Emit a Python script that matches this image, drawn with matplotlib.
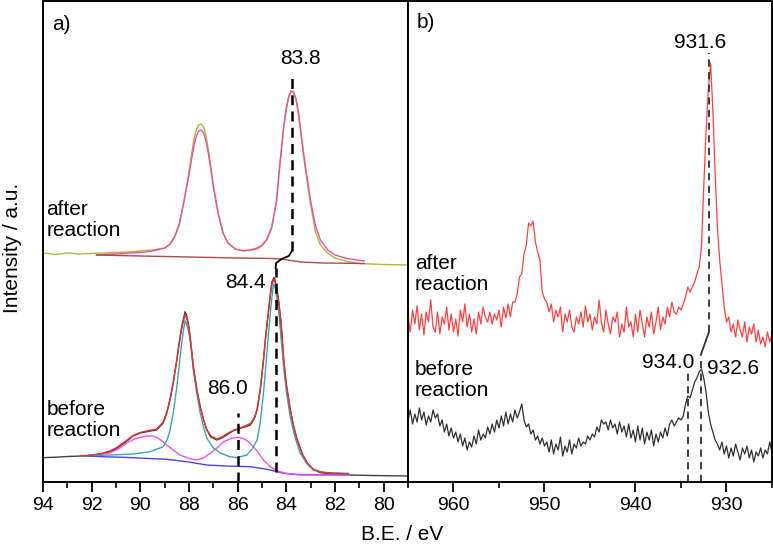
import numpy as np
import matplotlib.pyplot as plt

plt.rcParams['font.family'] = ['Liberation Sans', 'DejaVu Sans']

# ------------------------------
# a) Pd 3d, after reaction
# ------------------------------
pd_after_be = [94.0, 93.5, 93.0, 92.5, 92.0, 91.5, 91.0, 90.5, 90.0, 89.5, 89.0, 88.8, 88.6, 88.4,
               88.2, 88.0, 87.9, 87.8, 87.7, 87.6, 87.5, 87.4, 87.3, 87.2, 87.1, 87.0, 86.8, 86.6,
               86.4, 86.1, 85.8, 85.5, 85.2, 85.0, 84.8, 84.6, 84.4, 84.3, 84.2, 84.1, 84.0, 83.9,
               83.8, 83.7, 83.6, 83.5, 83.4, 83.3, 83.2, 83.0, 82.8, 82.6, 82.3, 82.0, 81.5, 81.0,
               80.5, 80.0, 79.0]
pd_after_raw = [229, 227.5, 229, 228, 228.5, 229, 229.5, 230, 231, 232, 234, 237, 244, 257,
                282, 310, 327, 342, 352, 357, 358, 355, 346, 332, 315, 297, 269, 249,
                239, 233, 231, 231.5, 233, 236, 242, 254, 282, 310, 334, 357, 374, 386,
                391, 390, 382, 367, 347, 327, 310, 277, 250, 237, 229, 224, 220.5, 218.5,
                218, 217.5, 217]

pd_after_fit_be = [91.8, 91.0, 90.0, 89.5, 89.0, 88.8, 88.6, 88.4, 88.2, 88.0, 87.9, 87.8, 87.7,
                   87.6, 87.5, 87.4, 87.3, 87.2, 87.1, 87.0, 86.8, 86.6, 86.4, 86.1, 85.8, 85.5,
                   85.2, 85.0, 84.8, 84.6, 84.4, 84.3, 84.2, 84.1, 84.0, 83.9, 83.8, 83.7, 83.6,
                   83.5, 83.4, 83.3, 83.2, 83.0, 82.8, 82.6, 82.3, 82.0, 81.5, 80.8]
pd_after_fit = [227, 228, 229.5, 231, 234, 237.5, 245, 258, 281, 307, 322, 336, 346,
                351, 352, 349, 341, 328, 312, 295, 268, 249, 239, 233, 231.5, 232,
                234, 237, 243, 255, 281, 308, 333, 356, 373, 385, 391, 390, 383,
                369, 350, 331, 313, 281, 256, 242, 232, 227, 223.5, 221]

pd_after_bg_be = [91.8, 90.0, 88.0, 86.0, 84.6, 84.2, 83.8, 83.4, 82.5, 80.8]
pd_after_bg = [227, 226, 225, 224, 223.5, 223, 221.5, 220, 219, 218.5]

# ------------------------------
# a) Pd 3d, before reaction
# ------------------------------
pd_before_be = [94.0, 93.5, 93.0, 92.4, 92.0, 91.6, 91.25, 91.0, 90.6, 90.3, 90.0, 89.74, 89.33,
                89.06, 88.9, 88.78, 88.64, 88.5, 88.4, 88.3, 88.22, 88.16, 88.1, 88.03, 87.95,
                87.82, 87.68, 87.54, 87.4, 87.27, 87.1, 86.86, 86.65, 86.45, 86.2, 85.9, 85.7,
                85.48, 85.3, 85.2, 85.07, 84.94, 84.84, 84.73, 84.66, 84.59, 84.5, 84.42, 84.32,
                84.22, 84.11, 84.0, 83.84, 83.7, 83.56, 83.35, 83.15, 82.9, 82.6, 82.0, 81.36,
                80.5, 79.0]
pd_before_raw = [24.3, 24.8, 25.5, 26, 26.5, 28, 30.3, 33, 40, 46, 49, 50.3, 52,
                 59, 70, 82, 100, 122, 140, 155.3, 164, 170.3, 167, 159, 145,
                 115.3, 93, 75.3, 62, 52, 45, 42, 44, 47, 51, 53.7, 55,
                 57, 64, 72, 92, 122, 148, 172, 188, 200.3, 204.7, 197, 182,
                 160, 122, 97, 72, 55, 42, 28, 18.7, 12.5, 9.3, 7.8, 7,
                 6.5, 6]

pd_before_fit_be = [92.42, 92.0, 91.6, 91.25, 91.0, 90.6, 90.3, 90.0, 89.74, 89.33, 89.06, 88.9,
                    88.78, 88.64, 88.5, 88.4, 88.3, 88.22, 88.16, 88.1, 88.03, 87.95, 87.82,
                    87.68, 87.54, 87.4, 87.27, 87.1, 86.86, 86.65, 86.45, 86.2, 85.9, 85.7,
                    85.48, 85.3, 85.2, 85.07, 84.94, 84.84, 84.73, 84.66, 84.59, 84.5, 84.42,
                    84.32, 84.22, 84.11, 84.0, 83.84, 83.7, 83.56, 83.35, 83.15, 82.9, 82.6,
                    82.0, 81.45]
pd_before_fit = [26, 27, 28.5, 31, 34, 41, 46.5, 49.5, 51, 53, 60, 71,
                 83, 101, 122, 139, 153, 162, 167, 164.5, 157, 143, 114,
                 92, 75, 62, 52.5, 46, 43, 45, 48, 51.5, 54, 56,
                 58.5, 65, 73, 93, 122, 147, 171, 186, 198, 202.7, 196,
                 181, 159, 123, 98, 73, 56, 43, 29, 19.5, 13, 10,
                 8.5, 8]

pd_metal_be = [92.42, 91.25, 90.29, 89.6, 89.06, 88.9, 88.78, 88.64, 88.5, 88.4, 88.3, 88.22,
               88.16, 88.1, 88.0, 87.9, 87.82, 87.68, 87.54, 87.4, 87.27, 87.0, 86.72, 86.35,
               86.03, 85.62, 85.4, 85.2, 85.07, 84.94, 84.84, 84.73, 84.63, 84.55, 84.52, 84.45,
               84.32, 84.22, 84.11, 84.0, 83.84, 83.65, 83.43, 83.15, 82.88, 82.4, 81.45]
pd_metal = [26, 27, 28, 30.3, 35.3, 42, 52, 70, 95.3, 117, 139, 153,
            161.3, 158, 149, 132, 112, 89, 69, 55, 44, 34, 29, 25.5,
            24.3, 27, 33, 42, 60, 89, 117, 149, 176, 194, 198, 193,
            172, 145, 115.3, 90, 65.3, 45, 29, 18, 12, 9.5, 8.7]

pd_oxide_be = [92.42, 91.8, 91.25, 90.9, 90.56, 90.2, 89.74, 89.5, 89.33, 89.1, 88.92, 88.6,
               88.37, 88.0, 87.68, 87.4, 87.13, 86.85, 86.58, 86.25, 85.96, 85.7, 85.48, 85.2,
               84.94, 84.65, 84.39, 84.0, 83.43, 81.45]
pd_oxide = [26, 27.5, 29, 33, 39, 43.5, 46, 46, 44.7, 41, 37, 31,
            27, 23.5, 22, 24, 28.7, 34, 40.3, 43.7, 44.7, 42.7, 38.7, 31,
            22, 15, 11.3, 8.5, 7, 7]

pd_before_bg_be = [92.42, 90.5, 88.92, 88.09, 87.27, 86.5, 85.48, 84.8, 84.4, 84.11, 83.5, 81.45]
pd_before_bg = [26, 24.5, 22.7, 20.3, 17, 16, 15.3, 12.7, 10.5, 8.7, 7.5, 7]

# ------------------------------
# b) Cu 2p, 0.25 eV steps from 965 to 925 eV
# ------------------------------
cu_be = np.arange(965.0, 924.99, -0.25)
cu_after = [165, 150, 172, 158, 176, 152, 168, 147,
            170, 160, 182, 155, 150, 170, 148, 165,
            158, 175, 152, 168, 150, 163, 146, 172,
            160, 178, 155, 168, 150, 163, 148, 170,
            158, 175, 165, 160, 170, 158, 168, 162,
            172, 155, 175, 164, 178, 165, 180, 180,
            188, 205, 208, 228, 237, 259, 256, 261,
            240, 230, 222, 190, 183, 180, 170, 178,
            160, 172, 165, 175, 150, 168, 160, 172,
            155, 150, 165, 158, 170, 155, 176, 160,
            168, 152, 165, 158, 182, 160, 150, 172,
            158, 148, 165, 160, 170, 145, 158, 150,
            175, 155, 160, 145, 168, 150, 172, 158,
            145, 165, 155, 170, 148, 160, 175, 152,
            165, 158, 175, 165, 180, 170, 168, 175,
            172, 178, 185, 195, 190, 195, 200, 208,
            215, 235, 295, 350, 392, 419, 372, 310,
            255, 222, 199, 175, 160, 165, 150, 158,
            145, 162, 152, 145, 160, 140, 155, 148,
            158, 140, 152, 138, 145, 135, 150, 140,
            148]
cu_before = [62, 72, 58, 68, 60, 74, 62, 70,
             57, 66, 60, 72, 64, 68, 56, 62,
             50, 58, 46, 54, 44, 50, 40, 48,
             36, 44, 32, 40, 35, 46, 38, 52,
             42, 48, 44, 55, 48, 58, 50, 62,
             54, 66, 56, 70, 58, 68, 60, 72,
             64, 70, 78, 62, 55, 58, 48, 52,
             42, 46, 38, 44, 36, 40, 30, 42,
             28, 38, 32, 45, 26, 36, 30, 42,
             28, 38, 34, 44, 36, 40, 38, 46,
             42, 48, 45, 55, 50, 62, 58, 60,
             52, 62, 54, 58, 48, 60, 50, 56,
             45, 58, 44, 52, 40, 56, 42, 54,
             38, 50, 42, 52, 36, 48, 40, 50,
             44, 54, 46, 58, 62, 56, 60, 64,
             62, 66, 78, 86, 84, 92, 100, 104,
             110, 113, 104, 90, 70, 58, 50, 42,
             38, 32, 40, 28, 36, 24, 34, 26,
             38, 30, 22, 34, 28, 36, 24, 32,
             20, 30, 26, 34, 24, 32, 28, 40,
             30]

# ------------------------------
# Plotting
# ------------------------------
fig = plt.figure(figsize=(7.73, 5.46), dpi=100)
ax1 = fig.add_axes([43 / 773, 64 / 546, 365 / 773, 481 / 546])
ax2 = fig.add_axes([408 / 773, 64 / 546, 364 / 773, 481 / 546])

fs = 15

# panel a
ax1.plot(pd_after_be, pd_after_raw, color='#b4b43c', lw=1.0)
ax1.plot(pd_after_fit_be, pd_after_fit, color='#ec4fa0', lw=1.0)
ax1.plot(pd_after_bg_be, pd_after_bg, color='#b04848', lw=1.0)
ax1.plot(pd_before_be, pd_before_raw, color='#404040', lw=1.0)
ax1.plot(pd_before_bg_be, pd_before_bg, color='#4646f0', lw=1.0)
ax1.plot(pd_oxide_be, pd_oxide, color='#f050f0', lw=1.0)
ax1.plot(pd_metal_be, pd_metal, color='#3aa8a8', lw=1.0)
ax1.plot(pd_before_fit_be, pd_before_fit, color='#e83030', lw=1.0)

dash_a = dict(color='black', lw=1.8, ls=(0, (4, 2.5)))
ax1.plot([83.77, 83.77], [231, 405], **dash_a)
ax1.plot([83.77, 83.9, 84.2, 84.42, 84.44], [231, 226, 223, 219, 214], color='black', lw=1.3)
ax1.plot([84.44, 84.44], [10, 214], **dash_a)
ax1.plot([85.99, 85.99], [0, 69], **dash_a)

ax1.text(83.4, 424, '83.8', fontsize=fs, ha='center', va='center')
ax1.text(84.86, 200, '84.4', fontsize=fs, ha='right', va='center')
ax1.text(86.41, 94, '86.0', fontsize=fs, ha='center', va='center')
ax1.text(93.64, 457, 'a)', fontsize=fs, ha='left', va='center')
ax1.text(93.86, 262, 'after\nreaction', fontsize=fs, ha='left', va='center', linespacing=1.15)
ax1.text(93.86, 62, 'before\nreaction', fontsize=fs, ha='left', va='center', linespacing=1.15)

ax1.set_xlim(94, 79)
ax1.set_xticks(np.arange(94, 79, -2))
ax1.set_xticks(np.arange(93, 79, -2), minor=True)

# panel b
ax2.plot(cu_be, cu_after, color='#ff4040', lw=0.9)
ax2.plot(cu_be, cu_before, color='#303030', lw=0.9)

dash_b = dict(color='#303030', lw=1.3, ls=(0, (4, 3)))
ax2.plot([931.93, 931.93], [150, 429], **dash_b)
ax2.plot([931.93, 932.83], [150, 127], color='#303030', lw=1.3)
ax2.plot([932.83, 932.83], [0, 125], **dash_b)
ax2.plot([934.18, 934.18], [0, 112], **dash_b)

ax2.text(932.93, 439, '931.6', fontsize=fs, ha='center', va='center')
ax2.text(936.42, 119, '934.0', fontsize=fs, ha='center', va='center')
ax2.text(929.31, 114, '932.6', fontsize=fs, ha='center', va='center')
ax2.text(964.06, 459, 'b)', fontsize=fs, ha='left', va='center')
ax2.text(964.25, 208, 'after\nreaction', fontsize=fs, ha='left', va='center', linespacing=1.15)
ax2.text(964.25, 102, 'before\nreaction', fontsize=fs, ha='left', va='center', linespacing=1.15)

ax2.set_xlim(965, 925)
ax2.set_xticks([960, 950, 940, 930])
ax2.set_xticks([965, 955, 945, 935, 925], minor=True)

for ax in (ax1, ax2):
    ax.set_ylim(0, 481)
    ax.set_yticks([])
    ax.tick_params(axis='x', which='major', direction='out', length=7, width=1.3,
                   labelsize=14, pad=4)
    ax.tick_params(axis='x', which='minor', direction='out', length=4.5, width=1.2)
    for s in ax.spines.values():
        s.set_linewidth(1.4)

fig.text(0.5207, 1 - 534 / 546, 'B.E. / eV', fontsize=fs, ha='center', va='center')
fig.text(0.016, 1 - 248 / 546, 'Intensity / a.u.', fontsize=fs, ha='center', va='center',
         rotation=90)

fig.savefig('out.png', dpi=100)
